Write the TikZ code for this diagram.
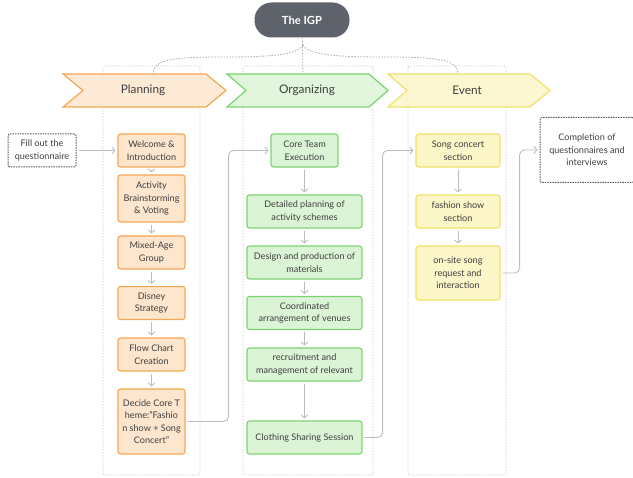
\documentclass[tikz,border=0pt]{standalone}
\usepackage{fontspec}
\setmainfont{Lato}
\usetikzlibrary{arrows.meta}
\definecolor{igpgray}{RGB}{94,99,107}
\definecolor{plorange}{RGB}{246,166,84}
\definecolor{plorange4}{RGB}{253,230,205}
\definecolor{orgreen}{RGB}{122,212,110}
\definecolor{orgreen4}{RGB}{220,244,214}
\definecolor{evyellow}{RGB}{240,225,104}
\definecolor{evyellow4}{RGB}{252,246,200}
\definecolor{linkgray}{RGB}{185,188,195}
\definecolor{lanegray}{RGB}{200,201,205}
\definecolor{boxgray}{RGB}{90,90,90}
\definecolor{txtgray}{RGB}{62,62,62}

\begin{document}
\begin{tikzpicture}[x=1pt,y=-1pt,
  every node/.style={font=\fontsize{9.1}{12.5}\selectfont,text=txtgray},
  planbox/.style={draw=plorange,line width=1.1pt,rounded corners=2.5pt,fill=plorange4,minimum width=67pt,minimum height=33pt,align=center,inner sep=1pt},
  orgbox/.style={draw=orgreen,line width=1.1pt,rounded corners=2.5pt,fill=orgreen4,minimum width=115pt,minimum height=33pt,align=center,inner sep=1pt},
  eventbox/.style={draw=evyellow,line width=1.1pt,rounded corners=2.5pt,fill=evyellow4,minimum width=84pt,minimum height=33pt,align=center,inner sep=1pt},
  notebox/.style={draw=boxgray,line width=1pt,dash pattern=on 1.5pt off 1pt,rounded corners=2pt,minimum height=33pt,align=center,inner sep=1pt},
  lane/.style={draw=lanegray,line width=0.7pt,dash pattern=on 1.5pt off 1.5pt,rounded corners=2pt},
  phase/.style={line width=1.2pt,fill opacity=0.85},
  phasetext/.style={font=\fontsize{11.8}{13}\selectfont},
  flow/.style={draw=linkgray,line width=0.9pt,-{Straight Barb[length=3pt,width=7pt]},shorten >=2pt,shorten <=2pt},
  tree/.style={draw=lanegray!85!black,line width=0.8pt,dash pattern=on 1.5pt off 1.5pt}
]
\useasboundingbox (0,0) rectangle (633,478);

% lanes behind the three phases
\draw[lane] (103,66) rectangle (200,475);
\draw[lane] (243,66) rectangle (373,475);
\draw[lane] (408,66) rectangle (506,475);

% phase chevrons
\draw[phase,draw=plorange,fill=plorange4] (63,74) -- (206,74) -- (226,90.5) -- (206,107) -- (63,107) -- (83,90.5) -- cycle;
\draw[phase,draw=orgreen,fill=orgreen4] (227,74) -- (369,74) -- (388,90.5) -- (369,107) -- (227,107) -- (246,90.5) -- cycle;
\draw[phase,draw=evyellow,fill=evyellow4] (388,74) -- (530,74) -- (550,90.5) -- (530,107) -- (388,107) -- (407,90.5) -- cycle;
\node[phasetext] (plan) at (143,90.5) {Planning};
\node[phasetext] (org) at (307,90.5) {Organizing};
\node[phasetext] (evt) at (467,90.5) {Event};

% root
\node[fill=igpgray,rounded corners=17pt,minimum width=95pt,minimum height=35pt,text=white,font=\fontsize{11.2}{12}\selectfont\bfseries] (igp) at (302,20) {The IGP};
\coordinate (fork) at (303,45);
\coordinate (plantop) at (153,74);
\coordinate (orgtop) at (303,74);
\coordinate (evttop) at (458,74);
\draw[tree] (igp) -- (orgtop);
\draw[tree] (fork) .. controls (298,56) and (262,57) .. (222,57) .. controls (172,57) and (153,60) .. (plantop);
\draw[tree] (fork) .. controls (308,56) and (346,57) .. (386,57) .. controls (440,57) and (458,60) .. (evttop);

% planning
\node[notebox,minimum width=68pt] (fill) at (42,150.5) {Fill out the\\questionnaire};
\node[planbox] (wel) at (151.5,150.5) {Welcome \&\\Introduction};
\node[planbox,minimum height=47pt] (brain) at (151.5,198.5) {Activity\\Brainstorming\\\& Voting};
\node[planbox] (mixed) at (151.5,252.5) {Mixed-Age\\Group};
\node[planbox] (disney) at (151.5,303) {Disney\\Strategy};
\node[planbox] (chart) at (151.5,354.5) {Flow Chart\\Creation};
\node[planbox,minimum height=65pt] (decide) at (151.5,421.5) {Decide Core T\\heme:"Fashio\\n show + Song\\Concert"};

% organizing
\node[orgbox,minimum width=67pt] (core) at (304.5,150.5) {Core Team\\Execution};
\node[orgbox] (detail) at (304.5,211.5) {Detailed planning of\\activity schemes};
\node[orgbox] (design) at (304.5,262.5) {Design and production of\\materials};
\node[orgbox] (venue) at (304.5,313) {Coordinated\\arrangement of venues};
\node[orgbox] (recruit) at (304.5,364.5) {recruitment and\\management of relevant};
\node[orgbox] (cloth) at (304.5,437.5) {Clothing Sharing Session};

% event
\node[eventbox] (song) at (458,150.5) {Song concert\\section};
\node[eventbox] (fashion) at (458,211.5) {fashion show\\section};
\node[eventbox,minimum height=54pt] (onsite) at (458,273) {on-site song\\request and\\interaction};
\node[notebox,minimum width=94pt,minimum height=65pt] (done) at (587,150) {Completion of\\questionnaires and\\interviews};

\draw[flow] (fill) -- (wel);
\draw[flow] (wel) -- (brain);
\draw[flow] (brain) -- (mixed);
\draw[flow] (mixed) -- (disney);
\draw[flow] (disney) -- (chart);
\draw[flow] (chart) -- (decide);
\draw[flow,rounded corners=5pt] (decide.east) -- ++(43,0) |- (core.west);

\draw[flow] (core) -- (detail);
\draw[flow] (detail) -- (design);
\draw[flow] (design) -- (venue);
\draw[flow] (venue) -- (recruit);
\draw[flow] (recruit) -- (cloth);
\draw[flow,rounded corners=5pt] (cloth.east) -- ++(20,0) |- (song.west);

\draw[flow] (song) -- (fashion);
\draw[flow] (fashion) -- (onsite);
\draw[flow,rounded corners=5pt] (onsite.east) -- ++(19,0) |- (done.west);
\end{tikzpicture}
\end{document}
